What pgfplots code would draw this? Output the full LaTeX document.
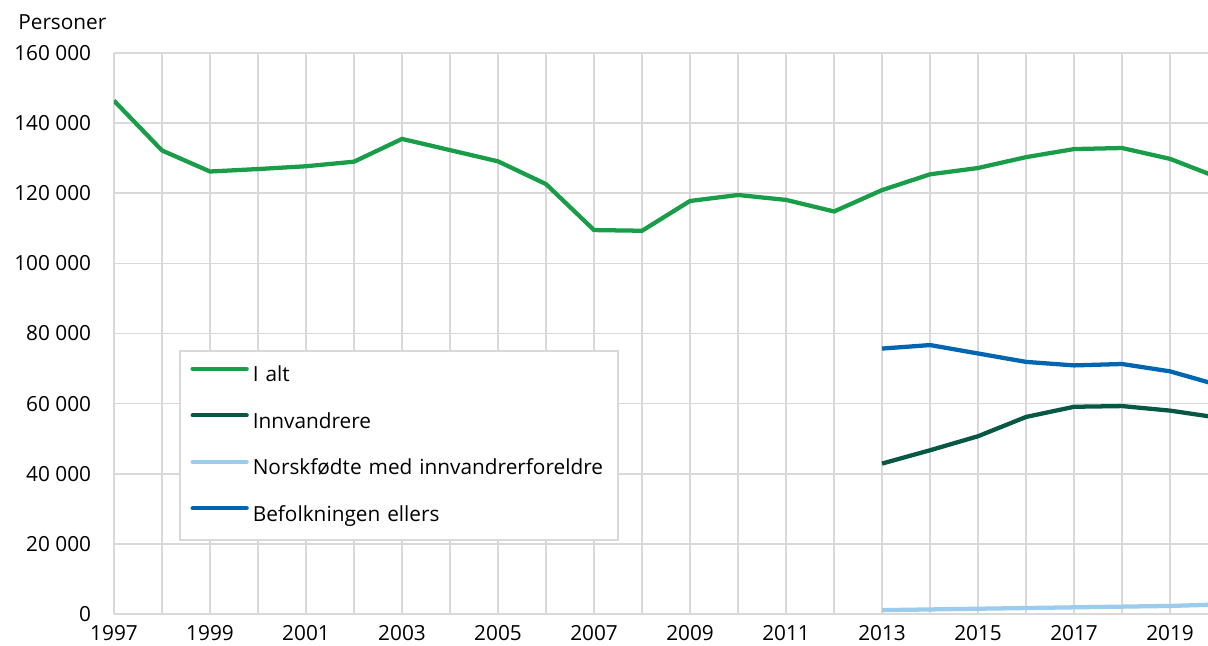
\documentclass[border=0pt]{standalone}
\usepackage{fontspec}
\setmainfont{Open Sans}
\usepackage{pgfplots}
\pgfplotsset{compat=1.18}
\definecolor{ialt}{HTML}{1A9D49}
\definecolor{innv}{HTML}{075745}
\definecolor{norsk}{HTML}{9BCBED}
\definecolor{bef}{HTML}{0066B1}
\definecolor{gridc}{HTML}{D9D9D9}
\begin{document}
\begin{tikzpicture}[font=\fontsize{15.6pt}{18.5pt}\selectfont]
\path[use as bounding box] (0,0) rectangle (906pt,484.5pt);
\begin{axis}[
  at={(85.5pt,24pt)}, anchor=south west,
  scale only axis, width=820.5pt, height=420.75pt,
  xmin=1997, xmax=2019.79, ymin=0, ymax=160000,
  scaled y ticks=false, scaled x ticks=false,
  xtick={1997,1999,...,2019},
  xticklabels={1997,1999,2001,2003,2005,2007,2009,2011,2013,2015,2017,2019},
  minor xtick={1998,2000,...,2020},
  ytick={0,20000,...,160000},
  yticklabels={0,20 000,40 000,60 000,80 000,100 000,120 000,140 000,160 000},
  grid=both,
  major grid style={draw=gridc, line width=1.3pt},
  minor grid style={draw=gridc, line width=1.3pt},
  axis line style={draw=none},
  major tick length=0pt, minor tick length=0pt,
  tick style={draw=none},
  xticklabel style={inner ysep=0pt, text depth=0pt, yshift=-8.4pt},
  yticklabel style={inner xsep=0pt, xshift=-17pt},
  clip mode=individual,
  legend cell align=left,
  legend style={at={(0.0594,0.4706)}, anchor=north west,
    draw=gridc, line width=1.3pt, inner xsep=8pt, inner ysep=4pt,
    row sep=5.4pt,
    nodes={inner xsep=0pt, inner ysep=0pt, text height=19.2pt, text depth=10.25pt, text width=266pt, align=left},
    /tikz/every odd column/.append style={column sep=3pt}},
  legend image code/.code={\draw[#1, line cap=round] (0pt,5.2pt) -- (40.5pt,5.2pt);},
]
\addplot[ialt, line width=3.2pt] coordinates {
(1997,146400) (1998,132200) (1999,126200) (2000,126900) (2001,127700)
(2002,129000) (2003,135500) (2004,132300) (2005,129100) (2006,122600)
(2007,109500) (2008,109300) (2009,117800) (2010,119500) (2011,118100)
(2012,114800) (2013,120900) (2014,125400) (2015,127200) (2016,130300)
(2017,132600) (2018,132900) (2019,129800) (2020,124500)};
\addlegendentry{I alt}
\addplot[innv, line width=3.2pt] coordinates {
(2013,42900) (2014,46700) (2015,50700) (2016,56200) (2017,59100)
(2018,59300) (2019,58000) (2020,56000)};
\addlegendentry{Innvandrere}
\addplot[norsk, line width=3.2pt] coordinates {
(2013,1100) (2014,1300) (2015,1500) (2016,1700) (2017,1900)
(2018,2100) (2019,2300) (2020,2700)};
\addlegendentry{Norskfødte med innvandrerforeldre}
\addplot[bef, line width=3.2pt] coordinates {
(2013,75700) (2014,76700) (2015,74300) (2016,71900) (2017,70900)
(2018,71300) (2019,69200) (2020,65300)};
\addlegendentry{Befolkningen ellers}
\node[anchor=base west, inner sep=0pt] at (rel axis cs:-0.0877,1.041) {Personer};
\end{axis}
\end{tikzpicture}
\end{document}
